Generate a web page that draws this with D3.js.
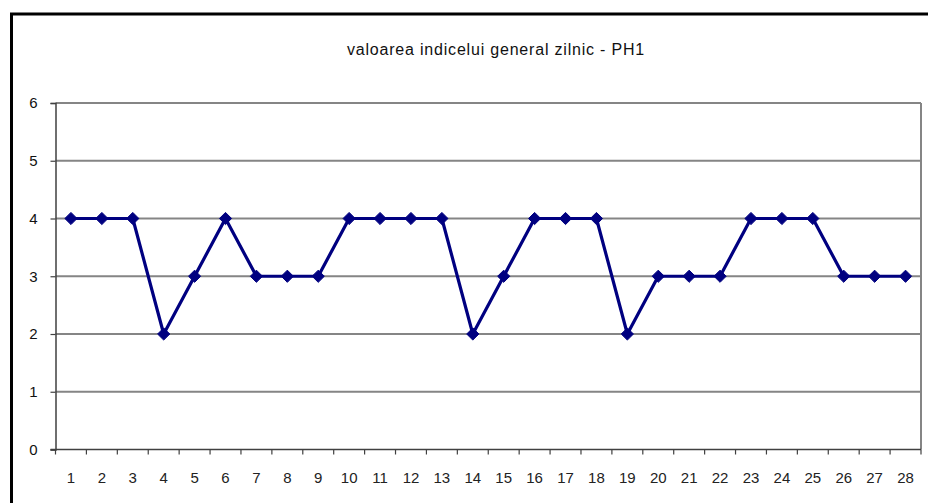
<!DOCTYPE html>
<html>
<head>
<meta charset="utf-8">
<script src="https://cdn.jsdelivr.net/npm/d3@7"></script>
<style>
  html, body { margin: 0; padding: 0; background: #fff; overflow: hidden; }
  svg { display: block; }
</style>
</head>
<body>
<svg id="chart" width="928" height="503"></svg>
<script>
const categories = ["1","2","3","4","5","6","7","8","9","10","11","12","13","14","15","16","17","18","19","20","21","22","23","24","25","26","27","28"];
const values = [4,4,4,2,3,4,3,3,3,4,4,4,4,2,3,4,4,4,2,3,3,3,4,4,4,3,3,3];
const yTicks = [0,1,2,3,4,5,6];
const title = "valoarea indicelui general zilnic - PH1";

const svg = d3.select("#chart");
const m = { left: 55.5, right: 921, top: 103, bottom: 449.5 };
const FONT = "Liberation Sans, Arial, sans-serif";

// outer frame: only top and left edges visible (extends past image)
svg.append("path")
  .attr("d", "M11.5,503 L11.5,14 L928,14")
  .attr("fill", "none").attr("stroke", "#000").attr("stroke-width", 3);

const x = d3.scaleBand().domain(categories).range([m.left, m.right]).padding(0);
const y = d3.scaleLinear().domain([0, 6]).range([m.bottom, m.top]);

// gridlines
svg.append("g").selectAll("line").data(yTicks.filter(d => d > 0)).join("line")
  .attr("x1", m.left).attr("x2", m.right)
  .attr("y1", d => y(d)).attr("y2", d => y(d))
  .attr("stroke", "#858585").attr("stroke-width", 2);

// right border of plot area
svg.append("line")
  .attr("x1", m.right).attr("x2", m.right)
  .attr("y1", m.top).attr("y2", m.bottom)
  .attr("stroke", "#858585").attr("stroke-width", 2);

// y axis
const yAxis = svg.append("g")
  .attr("transform", `translate(${m.left},0)`)
  .call(d3.axisLeft(y).tickValues(yTicks).tickSize(5).tickPadding(13).tickFormat(d3.format("d")));
yAxis.select(".domain").attr("stroke", "#404040").attr("stroke-width", 1.5);
yAxis.selectAll(".tick line").attr("stroke", "#404040").attr("stroke-width", 1.2);
yAxis.selectAll("text").attr("font-family", FONT)
  .attr("font-size", 15).attr("fill", "#111");

// x axis with ticks at category boundaries
const xAxisG = svg.append("g").attr("transform", `translate(0,${m.bottom})`);
xAxisG.append("line").attr("x1", m.left - 5).attr("x2", m.right)
  .attr("y1", 0).attr("y2", 0).attr("stroke", "#404040").attr("stroke-width", 1.5);
const boundaries = categories.map(c => x(c)).concat([x(categories[categories.length - 1]) + x.bandwidth()]);
xAxisG.selectAll("line.tk").data(boundaries).join("line").attr("class", "tk")
  .attr("x1", d => d).attr("x2", d => d).attr("y1", 0).attr("y2", 5)
  .attr("stroke", "#404040").attr("stroke-width", 1.2);
xAxisG.selectAll("text").data(categories).join("text")
  .attr("x", d => x(d) + x.bandwidth() / 2)
  .attr("y", 33)
  .attr("text-anchor", "middle")
  .attr("font-family", FONT)
  .attr("font-size", 15).attr("fill", "#222")
  .text(d => d);

// line
const line = d3.line()
  .x((d, i) => x(categories[i]) + x.bandwidth() / 2)
  .y(d => y(d));
svg.append("path").datum(values)
  .attr("d", line).attr("fill", "none")
  .attr("stroke", "#000080").attr("stroke-width", 3.2).attr("stroke-linejoin", "round");

// diamond markers
const sym = d3.symbol().type(d3.symbolDiamond2).size(95);
svg.append("g").selectAll("path").data(values).join("path")
  .attr("transform", (d, i) => `translate(${x(categories[i]) + x.bandwidth() / 2},${y(d)})`)
  .attr("d", sym).attr("fill", "#000080").attr("stroke", "#000080").attr("stroke-width", 1);

// title
svg.append("text")
  .attr("x", 496).attr("y", 55)
  .attr("text-anchor", "middle")
  .attr("font-family", FONT)
  .attr("font-size", 16).attr("letter-spacing", 0.8).attr("fill", "#111")
  .text(title);
</script>
</body>
</html>
